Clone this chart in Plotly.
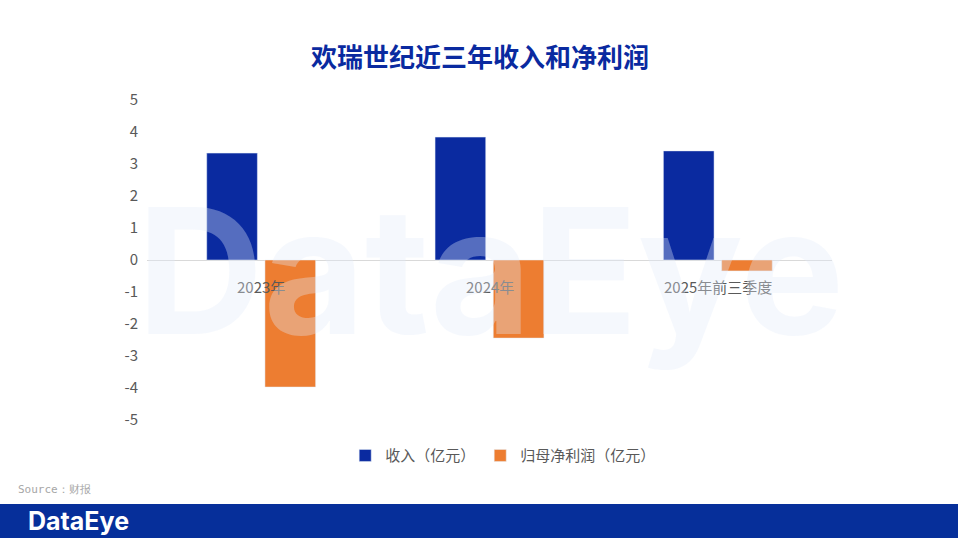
import plotly.graph_objects as go

categories = ["2023年", "2024年", "2025年前三季度"]
revenue = [3.34, 3.84, 3.41]
profit = [-3.97, -2.44, -0.34]
yticks = [5, 4, 3, 2, 1, 0, -1, -2, -3, -4, -5]
yticklabels = ["5", "4", "3", "2", "1", "0", "-1", "-2", "-3", "-4", "-5"]

fig = go.Figure()
fig.add_bar(x=categories, y=revenue, name="收入（亿元）", marker_color="#0A2AA0")
fig.add_bar(x=categories, y=profit, name="归母净利润（亿元）", marker_color="#ED7D31")

font = "Noto Sans CJK SC"
W, H, L, R, T, B = 960, 540, 147, 128, 100, 120
pw, ph = W - L - R, H - T - B
px = lambda x: (x - L) / pw
py = lambda y: (H - B - y) / ph

ann = [dict(x=c, y=0, xref="x", yref="y", text=c, showarrow=False, yshift=-26,
            font=dict(size=15, color="#595959", family=font)) for c in categories]
ann += [
    dict(x=px(490), y=py(270), xref="paper", yref="paper", text="<b>DataEye</b>", showarrow=False,
         font=dict(size=175, color="rgba(225,236,250,0.35)", family="Inter")),
    dict(x=px(16), y=py(489), xref="paper", yref="paper", text="Source：财报", showarrow=False,
         xanchor="left", yanchor="middle", font=dict(size=11, color="#A6A6A6", family="DejaVu Sans Mono")),
    dict(x=px(26), y=py(521), xref="paper", yref="paper", text="<b>DataEye</b>", showarrow=False,
         xanchor="left", yanchor="middle", font=dict(size=25, color="white", family="Inter")),
]

fig.update_layout(
    width=W, height=H, margin=dict(l=L, r=R, t=T, b=B),
    plot_bgcolor="white", paper_bgcolor="white",
    barmode="group", bargap=0.49, bargroupgap=0.13,
    title=dict(text="<b>欢瑞世纪近三年收入和净利润</b>", x=0.5, xanchor="center", y=0.91,
               font=dict(size=26, color="#0A2AA0", family=font)),
    xaxis=dict(showticklabels=False, showline=False, showgrid=False, zeroline=False),
    yaxis=dict(range=[-5, 5], tickvals=yticks, ticktext=yticklabels, showgrid=False, zeroline=True,
               zerolinecolor="#D9D9D9", zerolinewidth=1,
               tickfont=dict(size=15, color="#595959", family=font), ticklabelstandoff=8),
    legend=dict(orientation="h", x=0.52, xanchor="center", y=-0.06, yanchor="top",
                font=dict(size=15, color="#595959", family=font), itemwidth=30),
    annotations=ann,
    shapes=[dict(type="rect", xref="paper", yref="paper",
                 x0=px(0), x1=px(958), y0=py(538), y1=py(504),
                 fillcolor="#062F9A", line_width=0, layer="below")],
)
fig.write_html("out.html", config={"displayModeBar": False},
               post_script="document.body.style.margin='0';document.body.style.padding='0';")
